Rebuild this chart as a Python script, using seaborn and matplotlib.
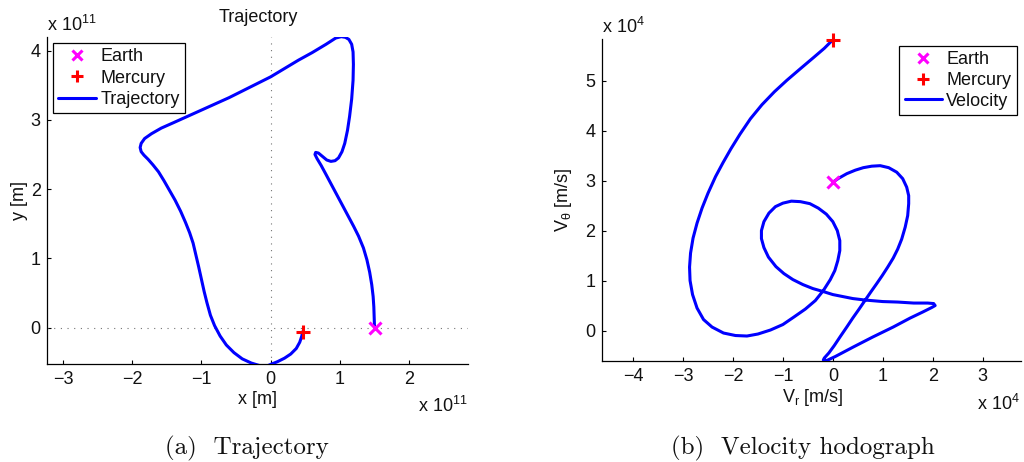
import matplotlib
matplotlib.use("Agg")
import matplotlib.pyplot as plt
from matplotlib.lines import Line2D
import seaborn as sns

# Transfer trajectory in the heliocentric frame, units of 1e11 m
traj_x = [1.50, 1.495, 1.49, 1.48, 1.46, 1.43, 1.39, 1.34, 1.27, 1.20, 1.12, 1.04,
          0.96, 0.88, 0.80, 0.73, 0.67, 0.64, 0.65, 0.69, 0.75, 0.81, 0.87, 0.93,
          0.98, 1.03, 1.07, 1.11, 1.14, 1.17, 1.19, 1.195, 1.19, 1.17, 1.13, 1.08,
          1.02, 0.94, 0.80, 0.60, 0.40, 0.20, 0.00, -0.20, -0.40, -0.60,
          -0.80, -1.00, -1.20, -1.40, -1.58, -1.72, -1.82, -1.87, -1.885, -1.87,
          -1.83, -1.77, -1.70, -1.62, -1.54, -1.46, -1.38, -1.30, -1.23, -1.17,
          -1.12, -1.08, -1.04, -1.00, -0.96, -0.92, -0.87, -0.81, -0.73, -0.64,
          -0.53, -0.41, -0.28, -0.15, -0.07, 0.00, 0.10, 0.20, 0.29, 0.37, 0.42,
          0.45, 0.46]
traj_y = [0.00, 0.15, 0.30, 0.45, 0.62, 0.80, 0.98, 1.15, 1.32, 1.46, 1.61, 1.76,
          1.91, 2.06, 2.21, 2.34, 2.44, 2.50, 2.53, 2.52, 2.47, 2.42, 2.40, 2.41,
          2.45, 2.54, 2.66, 2.85, 3.05, 3.30, 3.57, 3.80, 3.98, 4.09, 4.16, 4.19,
          4.20, 4.18, 4.09, 3.97, 3.86, 3.74, 3.62, 3.52, 3.42, 3.32,
          3.23, 3.14, 3.05, 2.96, 2.88, 2.80, 2.73, 2.66, 2.60, 2.54,
          2.49, 2.43, 2.35, 2.25, 2.12, 1.98, 1.84, 1.68, 1.52, 1.37,
          1.22, 1.05, 0.88, 0.70, 0.52, 0.36, 0.18, 0.03, -0.12, -0.25,
          -0.36, -0.45, -0.51, -0.55, -0.56, -0.53, -0.49, -0.44, -0.38, -0.30, -0.21,
          -0.12, -0.06]

# Velocity hodograph (radial vs. tangential), units of 1e4 m/s
vel_r = [0.00, 0.12, 0.28, 0.45, 0.61, 0.78, 0.95, 1.12, 1.28, 1.40, 1.48, 1.52,
         1.52, 1.50, 1.45, 1.38, 1.30, 1.21, 1.10, 0.99, 0.88, 0.76, 0.65, 0.52,
         0.40, 0.28, 0.15, 0.03, -0.08, -0.17, -0.19, -0.12, 0.05, 0.41, 0.80,
         1.21, 1.55, 1.80, 1.98, 2.05, 2.02, 1.90, 1.62, 1.30, 1.00, 0.65, 0.40,
         0.20, 0.00, -0.19, -0.40, -0.60, -0.80, -0.98, -1.14, -1.29, -1.38, -1.43,
         -1.43, -1.38, -1.28, -1.15, -1.00, -0.83, -0.65, -0.46, -0.29, -0.13, 0.00,
         0.09, 0.14, 0.14, 0.10, 0.04, -0.05, -0.19, -0.35, -0.55, -0.78, -1.00,
         -1.25, -1.50, -1.72, -1.95, -2.19, -2.42, -2.59, -2.72, -2.81, -2.86, -2.87,
         -2.85, -2.80, -2.72, -2.62, -2.50, -2.35, -2.20, -2.04, -1.86, -1.65, -1.42,
         -1.17, -0.92, -0.64, -0.38, -0.17, 0.00]
vel_t = [2.97, 3.05, 3.14, 3.21, 3.26, 3.29, 3.30, 3.26, 3.17, 3.04, 2.87, 2.70,
         2.54, 2.30, 2.07, 1.83, 1.63, 1.45, 1.27, 1.10, 0.94, 0.77, 0.61, 0.42,
         0.25, 0.07, -0.12, -0.30, -0.45, -0.55, -0.59, -0.60, -0.52, -0.33, -0.13,
         0.07, 0.25, 0.37, 0.46, 0.50, 0.54, 0.55, 0.55, 0.57, 0.58, 0.61, 0.64,
         0.68, 0.72, 0.78, 0.84, 0.92, 1.02, 1.14, 1.28, 1.47, 1.66, 1.84,
         2.00, 2.18, 2.35, 2.48, 2.55, 2.59, 2.58, 2.54, 2.45, 2.33, 2.18,
         2.00, 1.80, 1.60, 1.40, 1.20, 1.02, 0.80, 0.60, 0.43, 0.27, 0.12,
         0.01, -0.07, -0.11, -0.10, -0.05, 0.07, 0.22, 0.45, 0.72, 1.00, 1.27,
         1.55, 1.85, 2.15, 2.45, 2.75, 3.08, 3.36, 3.64, 3.93, 4.24, 4.52,
         4.78, 5.01, 5.25, 5.47, 5.65, 5.82]

earth_pos = (1.50, 0.00)
mercury_pos = (0.47, -0.06)
earth_vel = (0.00, 2.97)
mercury_vel = (0.00, 5.82)

traj_xticks = [-3, -2, -1, 0, 1, 2]
traj_yticks = [0, 1, 2, 3, 4]
vel_xticks = [-4, -3, -2, -1, 0, 1, 2, 3]
vel_yticks = [0, 1, 2, 3, 4, 5]

sns.set_theme(style="white")
plt.rcParams["font.family"] = ["Liberation Sans", "DejaVu Sans"]
plt.rcParams["mathtext.fontset"] = "custom"
plt.rcParams["mathtext.rm"] = "Liberation Sans"
plt.rcParams["mathtext.it"] = "Liberation Sans:italic"
plt.rcParams["axes.unicode_minus"] = True
plt.rcParams["lines.solid_joinstyle"] = "round"
plt.rcParams["lines.solid_capstyle"] = "round"

W, H = 1024, 462
FS = 13
TXT = "#111111"
BLUE = (0, 0, 1)
fig = plt.figure(figsize=(W / 100, H / 100), dpi=100)


def fx(px):
    return px / W


def fy(py):
    return 1 - py / H


def make_axes(l, r, t, b):
    return fig.add_axes([fx(l), fy(b), fx(r) - fx(l), fy(t) - fy(b)])


def tick_text(vals):
    return [f"{v:d}".replace("-", "\u2212") for v in vals]


def style_axes(ax, xticks, yticks, xlim, ylim, xpad, ypad):
    ax.set_xlim(*xlim)
    ax.set_ylim(*ylim)
    ax.set_xticks(xticks)
    ax.set_yticks(yticks)
    ax.set_xticklabels(tick_text(xticks))
    ax.set_yticklabels(tick_text(yticks))
    for s in ("top", "right"):
        ax.spines[s].set_visible(False)
    for s in ("left", "bottom"):
        ax.spines[s].set_color("black")
        ax.spines[s].set_linewidth(0.9)
    ax.tick_params(axis="x", direction="in", length=3.2, width=0.8, color="black",
                   labelsize=FS, labelcolor=TXT, pad=xpad, bottom=True)
    ax.tick_params(axis="y", direction="in", length=3.2, width=0.8, color="black",
                   labelsize=FS, labelcolor=TXT, pad=ypad, left=True)
    ax.set_xlabel("")
    ax.set_ylabel("")
    ax.set_facecolor("white")


def legend_handles(line_label):
    return [
        Line2D([], [], ls="none", marker="x", ms=7, mew=2.2, color="magenta", label="Earth"),
        Line2D([], [], ls="none", marker="+", ms=9, mew=2.2, color="red", label="Mercury"),
        Line2D([], [], color=BLUE, lw=2.2, label=line_label),
    ]


def add_legend(ax, handles, loc, anchor, spacing=0.24):
    leg = ax.legend(handles=handles, loc=loc, bbox_to_anchor=anchor, borderaxespad=0,
                    fontsize=FS, frameon=True, fancybox=False, shadow=False,
                    handlelength=2.1, handletextpad=0.22, labelspacing=spacing,
                    borderpad=0.3, framealpha=1)
    leg.get_frame().set_edgecolor("black")
    leg.get_frame().set_linewidth(0.9)
    for t in leg.get_texts():
        t.set_color(TXT)
    return leg


# ---- (a) trajectory ----
ax1 = make_axes(47, 468, 37, 364)
ax1.axhline(0, color="0.45", lw=0.8, ls=(0, (1, 5)), zorder=1)
ax1.axvline(0, color="0.45", lw=0.8, ls=(0, (1, 5)), zorder=1)
sns.lineplot(x=traj_x, y=traj_y, sort=False, estimator=None, ax=ax1,
             color=BLUE, lw=2.2, zorder=3)
ax1.plot(*earth_pos, ls="none", marker="x", ms=8, mew=2.2, color="magenta", zorder=4)
ax1.plot(*mercury_pos, ls="none", marker="+", ms=10, mew=2.2, color="red", zorder=4)
style_axes(ax1, traj_xticks, traj_yticks, (-3.23, 2.85), (-0.524, 4.195), 5, 4.5)
add_legend(ax1, legend_handles("Trajectory"), "upper left", (0.014, 0.982))

fig.text(fx(258), fy(21.5), "Trajectory", ha="center", va="baseline", fontsize=FS,
         color=TXT)
fig.text(fx(47), fy(31), r"x 10$^{11}$", ha="left", va="baseline", fontsize=FS,
         color=TXT)
fig.text(fx(468), fy(412.5), r"x 10$^{11}$", ha="right", va="baseline", fontsize=FS,
         color=TXT)
fig.text(fx(257), fy(399), "x [m]", ha="center", va="center", fontsize=FS, color=TXT)
fig.text(fx(19.5), fy(201), "y [m]", ha="center", va="center", rotation=90,
         fontsize=FS, color=TXT)

# ---- (b) velocity hodograph ----
ax2 = make_axes(601.7, 1021, 39.3, 361)
sns.lineplot(x=vel_r, y=vel_t, sort=False, estimator=None, ax=ax2,
             color=BLUE, lw=2.2, zorder=3)
ax2.plot(*earth_vel, ls="none", marker="x", ms=8, mew=2.2, color="magenta",
         zorder=4, clip_on=False)
ax2.plot(*mercury_vel, ls="none", marker="+", ms=10, mew=2.2, color="red",
         zorder=4, clip_on=False)
style_axes(ax2, vel_xticks, vel_yticks, (-4.63, 3.77), (-0.61, 5.83), 5, 4.5)
add_legend(ax2, legend_handles("Velocity"), "upper right", (0.990, 0.979), spacing=0.2)

fig.text(fx(602), fy(33), r"x 10$^{4}$", ha="left", va="baseline", fontsize=FS,
         color=TXT)
fig.text(fx(1020), fy(410), r"x 10$^{4}$", ha="right", va="baseline", fontsize=FS,
         color=TXT)
fig.text(fx(813), fy(397), r"V$_{\mathrm{r}}$ [m/s]", ha="center", va="center",
         fontsize=FS, color=TXT)
fig.text(fx(564), fy(200), r"V$_{\mathrm{θ}}$ [m/s]", ha="center", va="center",
         rotation=90, fontsize=FS, color=TXT)

# ---- sub-figure captions ----
fig.text(fx(246.5), fy(454.3), "(a)  Trajectory", ha="center", va="baseline",
         fontsize=18, family="cmr10", color=TXT)
fig.text(fx(802.5), fy(454.3), "(b)  Velocity hodograph", ha="center", va="baseline",
         fontsize=18, family="cmr10", color=TXT)

fig.savefig("out.png", dpi=100, facecolor="white")
